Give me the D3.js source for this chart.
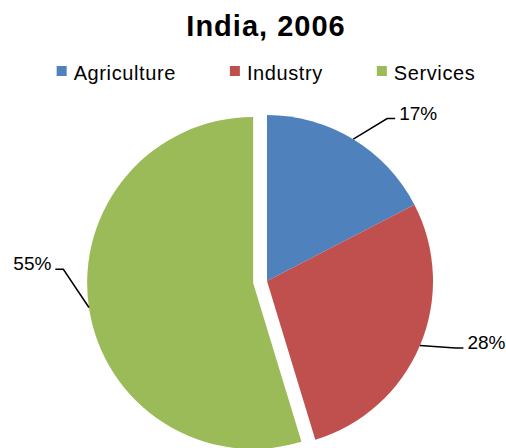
<!DOCTYPE html>
<html>
<head>
<meta charset="utf-8">
<script src="https://cdn.jsdelivr.net/npm/d3@7"></script>
<style>
  body { margin: 0; background: #fff; }
  svg { display: block; font-family: "Liberation Sans", Arial, sans-serif; }
</style>
</head>
<body>
<svg id="chart" width="506" height="448"></svg>
<script>
// data
var categories = ['Agriculture', 'Industry', 'Services'];
var shares = [17.4, 27.9, 54.7];
var colors = ['#4F81BD', '#C0504D', '#9BBB59'];
var title = 'India, 2006';

// layout
var width = 506, height = 448;
var cx = 267, cy = 281, radius = 166;
var explodeName = 'Services', explodeBy = 14;
// elbow of each leader line, polar (degrees clockwise from top, radius) around the pie centre
var labelElbows = [{ a: 36.5, r: 202 }, { a: 109.6, r: 200 }, { a: 273.3, r: 204 }];

var svg = d3.select('#chart');

var polar = function (a, r) {
    return [r * Math.sin(a), -r * Math.cos(a)];
};

// title
svg.append('text')
    .attr('x', 266).attr('y', 36)
    .attr('text-anchor', 'middle')
    .style('font-size', '29px').style('font-weight', 'bold')
    .style('letter-spacing', '1px')
    .text(title);

// legend, laid out left to right then centred
var legend = svg.append('g');
var lx = 0;
categories.forEach(function (name, i) {
    var item = legend.append('g').attr('transform', 'translate(' + lx + ',0)');
    item.append('rect')
        .attr('x', 0).attr('y', -14)
        .attr('width', 10).attr('height', 10)
        .attr('fill', colors[i]);
    var t = item.append('text')
        .attr('x', 17).attr('y', 0)
        .style('font-size', '20px').style('letter-spacing', '0.6px')
        .text(name);
    lx += 17 + t.node().getComputedTextLength() + 54;
});
var lw = legend.node().getBBox().width;
legend.attr('transform', 'translate(' + (266 - lw / 2) + ',80)');

// pie
var pie = d3.pie().sort(null).value(function (d) { return d; });
var arcs = pie(shares);
var total = d3.sum(shares);
var arc = d3.arc().innerRadius(0).outerRadius(radius);

var pieG = svg.append('g').attr('transform', 'translate(' + cx + ',' + cy + ')');

var offsetOf = function (d, i) {
    if (categories[i] !== explodeName) return [0, 0];
    return polar((d.startAngle + d.endAngle) / 2, explodeBy);
};

pieG.selectAll('path.slice')
    .data(arcs)
    .enter().append('path')
    .attr('class', 'slice')
    .attr('d', arc)
    .attr('fill', function (d, i) { return colors[i]; })
    .attr('transform', function (d, i) {
        var o = offsetOf(d, i);
        return 'translate(' + o[0] + ',' + o[1] + ')';
    });

// data labels with leader lines
var fmt = d3.format('.0%');
arcs.forEach(function (d, i) {
    var mid = (d.startAngle + d.endAngle) / 2;
    var o = offsetOf(d, i);
    var e = polar(mid, radius);
    var p0 = [e[0] + o[0], e[1] + o[1]];
    var el = labelElbows[i];
    var p1 = polar(el.a * Math.PI / 180, el.r);
    var side = p1[0] >= 0 ? 1 : -1;
    var p2 = [p1[0] + 8 * side, p1[1]];

    pieG.append('path')
        .attr('d', d3.line()([p0, p1, p2]))
        .attr('fill', 'none')
        .attr('stroke', '#000')
        .attr('stroke-width', 1.5);

    pieG.append('text')
        .attr('x', p2[0] + 4 * side)
        .attr('y', p1[1] + 1)
        .attr('text-anchor', side > 0 ? 'start' : 'end')
        .style('font-size', '19px')
        .text(fmt(d.data / total));
});
</script>
</body>
</html>
